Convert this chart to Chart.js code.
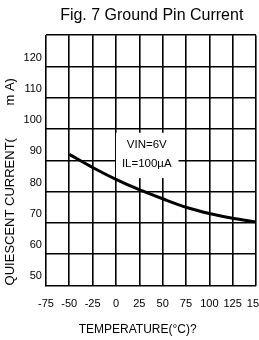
<!DOCTYPE html>
<html>
<head>
<meta charset="utf-8">
<script src="https://cdn.jsdelivr.net/npm/chart.js@4"></script>
<style>
  html, body { margin: 0; padding: 0; background: #fff; }
  #wrap { width: 259px; height: 340px; }
</style>
</head>
<body>
<div id="wrap"><canvas id="groundPinChart"></canvas></div>
<script>
// values
const temperatures = [-50, -25, 0, 25, 50, 75, 100, 125, 150];
const quiescentCurrent = [91.9, 87.7, 83.9, 80.6, 77.7, 75.0, 73.0, 71.5, 70.3];
const noteLines = ['VIN=6V', 'IL=100\u00b5A'];

const FONT = '"Liberation Sans", Arial, sans-serif';

// white box with the test conditions, placed in data units
const notePlugin = {
    id: 'note',
    beforeDatasetsDraw(chart) {
        const { ctx, scales: { x, y } } = chart;
        const left = x.getPixelForValue(0), right = x.getPixelForValue(67);
        const top = y.getPixelForValue(98.8), bottom = y.getPixelForValue(84.3);
        ctx.save();
        ctx.fillStyle = '#fff';
        ctx.fillRect(left, top, right - left, bottom - top);
        ctx.fillStyle = '#000';
        ctx.font = '11.5px ' + FONT;
        ctx.textAlign = 'center';
        ctx.textBaseline = 'middle';
        const cx = x.getPixelForValue(33);
        ctx.fillText(noteLines[0], cx, y.getPixelForValue(94.8));
        ctx.fillText(noteLines[1], cx, y.getPixelForValue(89));
        ctx.restore();
    }
};

function noEdgePadding(scale) {
    scale.paddingLeft = 0;
    scale.paddingRight = 0;
    scale.paddingTop = 0;
    scale.paddingBottom = 0;
}

new Chart(document.getElementById('groundPinChart'), {
    type: 'line',
    data: {
        datasets: [{
            data: temperatures.map((t, i) => ({ x: t, y: quiescentCurrent[i] })),
            borderColor: '#000',
            borderWidth: 3,
            pointRadius: 0,
            cubicInterpolationMode: 'monotone',
            fill: false
        }]
    },
    options: {
        responsive: true,
        maintainAspectRatio: false,
        animation: false,
        layout: { padding: { left: 3, right: 3, top: 0, bottom: 3 } },
        plugins: {
            legend: { display: false },
            tooltip: { enabled: false },
            title: {
                display: true,
                text: '          Fig. 7 Ground Pin Current',
                color: '#000',
                font: { family: FONT, size: 16, weight: 'normal' },
                padding: { top: 6, bottom: 10 }
            }
        },
        scales: {
            x: {
                type: 'linear',
                min: -75,
                max: 150,
                afterFit: noEdgePadding,
                ticks: {
                    stepSize: 25,
                    color: '#000',
                    padding: 12,
                    maxRotation: 0,
                    font: { family: FONT, size: 11 }
                },
                grid: { color: '#000', lineWidth: 1.6, drawTicks: false },
                border: { color: '#000', width: 1 },
                title: {
                    display: true,
                    text: 'TEMPERATURE(\u00b0C)?        ',
                    color: '#000',
                    font: { family: FONT, size: 12 },
                    padding: { top: 0, bottom: 0 }
                }
            },
            y: {
                min: 50,
                max: 130,
                afterFit: noEdgePadding,
                ticks: {
                    stepSize: 10,
                    color: '#000',
                    padding: 4,
                    labelOffset: -9,
                    font: { family: FONT, size: 11 },
                    callback: v => (v === 130 ? '' : v)
                },
                grid: { color: '#000', lineWidth: 1.6, drawTicks: false },
                border: { color: '#000', width: 1 },
                title: {
                    display: true,
                    align: 'start',
                    text: 'QUIESCENT CURRENT(         m A)',
                    color: '#000',
                    font: { family: FONT, size: 13 },
                    padding: { top: 0, bottom: 1 }
                }
            }
        }
    },
    plugins: [notePlugin]
});
</script>
</body>
</html>
